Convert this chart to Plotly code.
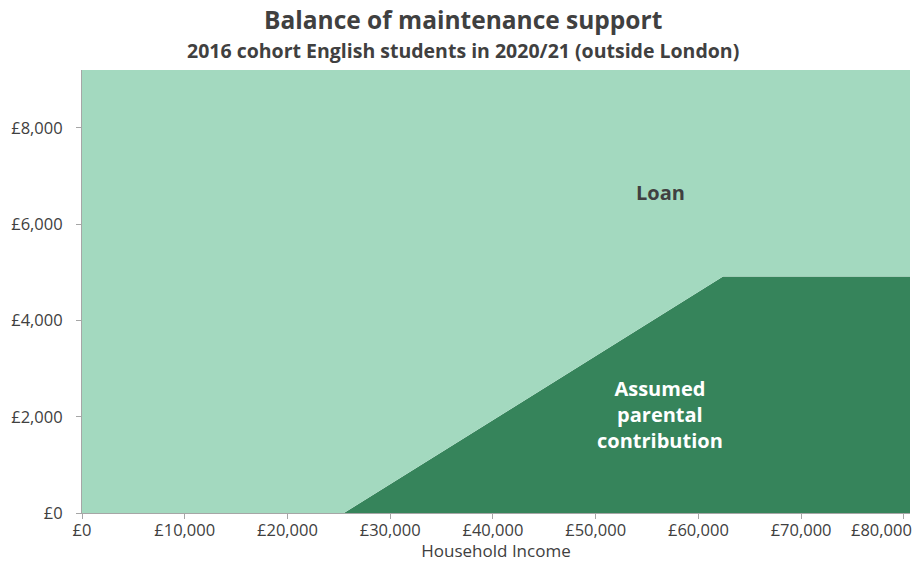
import plotly.graph_objects as go

# Data
income = [0, 25500, 62400, 80600]
parental_contribution = [0, 0, 4914, 4914]
max_support = 9203
loan = [max_support - p for p in parental_contribution]

x_tickvals = [0, 10000, 20000, 30000, 40000, 50000, 60000, 70000, 80000]
x_ticktext = ["£0", "£10,000", "£20,000", "£30,000", "£40,000", "£50,000", "£60,000", "£70,000", ""]
y_tickvals = [0, 2000, 4000, 6000, 8000]
y_ticktext = ["£0", "£2,000", "£4,000", "£6,000", "£8,000"]

LIGHT = "#a3d9bf"
DARK = "#36845b"
TEXT = "#404040"
FONT = "Open Sans"
PLOT_H = 562 - 70 - 49
PLOT_W = 913 - 82 - 3
TITLE_X = (463 - 82) / PLOT_W

fig = go.Figure()
fig.add_trace(go.Scatter(x=income, y=parental_contribution, stackgroup="s", mode="lines",
                         line=dict(width=0), fillcolor=DARK, name="Assumed parental contribution",
                         hoverinfo="skip"))
fig.add_trace(go.Scatter(x=income, y=loan, stackgroup="s", mode="lines",
                         line=dict(width=0), fillcolor=LIGHT, name="Loan", hoverinfo="skip"))

fig.update_layout(
    width=913, height=562,
    margin=dict(l=82, r=3, t=70, b=49),
    paper_bgcolor="white", plot_bgcolor="white",
    showlegend=False,
    font=dict(family=FONT, color=TEXT, size=17),
    xaxis=dict(
        range=[0, 80600], tickvals=x_tickvals, ticktext=x_ticktext,
        showgrid=False, zeroline=False, showline=True, linecolor="#a6a6a6", linewidth=1,
        ticks="outside", ticklen=5, tickcolor="#a6a6a6",
        tickfont=dict(size=16.5, color=TEXT), ticklabelstandoff=-3,
        title=dict(text="Household Income", font=dict(size=17, color=TEXT), standoff=0),
        automargin=False,
    ),
    yaxis=dict(
        range=[0, max_support], tickvals=y_tickvals, ticktext=y_ticktext,
        showgrid=False, zeroline=False, showline=True, linecolor="#a6a6a6", linewidth=1,
        ticks="outside", ticklen=5, tickcolor="#a6a6a6",
        tickfont=dict(size=16.5, color=TEXT), ticklabelstandoff=10,
        automargin=False,
    ),
    annotations=[
        dict(x=TITLE_X, y=1 + (70 - 20) / PLOT_H, xref="paper", yref="paper", xanchor="center",
             yanchor="middle", text="<b>Balance of maintenance support</b>", showarrow=False,
             font=dict(size=24.5, color=TEXT)),
        dict(x=TITLE_X, y=1 + (70 - 50) / PLOT_H, xref="paper", yref="paper", xanchor="center",
             yanchor="middle", text="<b>2016 cohort English students in 2020/21 (outside London)</b>",
             showarrow=False, font=dict(size=19.5, color=TEXT)),
        dict(x=1.0, y=0, xref="paper", yref="paper", xanchor="right", yanchor="top",
             yshift=-3, xshift=4, text="£80,000", showarrow=False, font=dict(size=16.5, color=TEXT)),
        dict(x=56300, y=6660, xref="x", yref="y", xanchor="center", yanchor="middle",
             text="<b>Loan</b>", showarrow=False, font=dict(size=20, color=TEXT)),
        dict(x=56300, y=2040, xref="x", yref="y", xanchor="center", yanchor="middle",
             text="<b>Assumed<br>parental<br>contribution</b>", showarrow=False,
             font=dict(size=20, color="white")),
    ],
)

fig.write_html("out.html", config={"displayModeBar": False},
               post_script="document.body.style.margin='0px';")
